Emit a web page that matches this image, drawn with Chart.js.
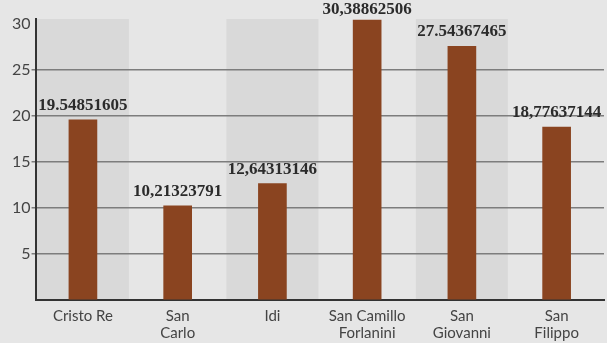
<!DOCTYPE html>
<html>
<head>
<meta charset="utf-8">
<script src="https://cdn.jsdelivr.net/npm/chart.js@4/dist/chart.umd.min.js"></script>
<style>
  html, body { margin: 0; padding: 0; background: #e6e6e6; }
  #wrap { width: 607px; height: 343px; }
</style>
</head>
<body>
<div id="wrap"><canvas id="myChart" width="607" height="343"></canvas></div>
<script>
'use strict';

// data
var categories = ['Cristo Re', ['San', 'Carlo'], 'Idi', ['San Camillo', 'Forlanini'], ['San', 'Giovanni'], ['San', 'Filippo']];
var values = [19.54851605, 10.21323791, 12.64313146, 30.38862506, 27.54367465, 18.77637144];
var valueLabels = ['19.54851605', '10,21323791', '12,64313146', '30,38862506', '27.54367465', '18,77637144'];
var yTicks = [0, 5, 10, 15, 20, 25, 30];

// shaded bands behind every other category + page background
var bandsPlugin = {
  id: 'bands',
  beforeDraw: function(chart) {
    var ctx = chart.ctx;
    var area = chart.chartArea;
    var x = chart.scales.x;
    ctx.save();
    ctx.fillStyle = '#e6e6e6';
    ctx.fillRect(0, 0, chart.width, chart.height);
    ctx.fillStyle = '#d9d9d9';
    for (var i = 0; i < categories.length; i += 2) {
      var cx = x.getPixelForValue(i);
      ctx.fillRect(cx - 46, area.top, 92, area.bottom - area.top);
    }
    ctx.restore();
  }
};

// value text above every bar
var valueLabelPlugin = {
  id: 'valueLabels',
  afterDatasetsDraw: function(chart) {
    var ctx = chart.ctx;
    var meta = chart.getDatasetMeta(0);
    ctx.save();
    ctx.font = 'bold 17px "Liberation Serif"';
    ctx.fillStyle = '#2b2b2b';
    ctx.textAlign = 'center';
    ctx.textBaseline = 'alphabetic';
    meta.data.forEach(function(bar, i) {
      var tx = Math.min(bar.x, chart.width - 50);
      ctx.fillText(valueLabels[i], tx, Math.max(bar.y - 10, 14));
    });
    ctx.restore();
  }
};

var myChart = new Chart(document.getElementById('myChart').getContext('2d'), {
  type: 'bar',
  data: {
    labels: categories,
    datasets: [{
      data: values,
      backgroundColor: '#8a4420',
      borderWidth: 0,
      barThickness: 28,
      clip: false
    }]
  },
  options: {
    responsive: false,
    animation: false,
    layout: { padding: { top: 19, right: 3, left: 11, bottom: 2 } },
    plugins: { legend: { display: false }, tooltip: { enabled: false } },
    scales: {
      x: {
        grid: { display: false },
        border: { color: '#333333', width: 2 },
        ticks: {
          color: '#444444',
          font: { family: 'Lato', size: 15, lineHeight: 1.1 },
          padding: 0,
          maxRotation: 0,
          autoSkip: false
        }
      },
      y: {
        min: 0,
        max: 30.5,
        afterBuildTicks: function(axis) {
          axis.ticks = yTicks.map(function(v) { return { value: v }; });
        },
        grid: {
          color: function(c) {
            var v = c.tick ? c.tick.value : 0;
            return (v === 0 || v === 30) ? 'rgba(0,0,0,0)' : '#7d7d7d';
          },
          lineWidth: 1.5,
          drawTicks: true,
          tickLength: 4
        },
        border: { color: '#333333', width: 2 },
        ticks: {
          color: '#444444',
          font: { family: 'Lato', size: 16 },
          padding: 1,
          callback: function(v) { return v === 0 ? '' : v; }
        }
      }
    }
  },
  plugins: [bandsPlugin, valueLabelPlugin]
});
</script>
</body>
</html>
